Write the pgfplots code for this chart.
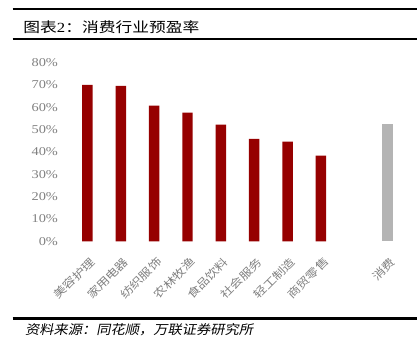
\documentclass[border=0pt]{standalone}
\usepackage{fontspec}
\usepackage{pgfplots}
\pgfplotsset{compat=1.18}
\setmainfont{Liberation Serif}
\newfontfamily\cjk{Noto Sans CJK SC}[FakeStretch=1.2]
\newfontfamily\cjkit{Noto Sans CJK SC}[FakeStretch=1.1,FakeSlant=0.2]
\newfontfamily\numfont{Liberation Serif}[FakeStretch=1.2]
\definecolor{barred}{RGB}{150,0,0}
\definecolor{bargray}{RGB}{180,180,180}
\definecolor{labgray}{RGB}{128,128,128}
\begin{document}
\begin{tikzpicture}[x=1bp,y=1bp]
\path (0,0) rectangle (418,352);
\draw[line width=2bp] (12.7,342.5) -- (418,342.5);
\draw[line width=2bp] (12.7,312.7) -- (418,312.7);
\node[anchor=base west, inner sep=0pt] at (23.3,319) {\cjk\fontsize{14bp}{14bp}\selectfont 图表{\numfont 2}：消费行业预盈率};
\draw[line width=2.5bp] (12.7,32.4) -- (418,32.4);
\node[anchor=base west, inner sep=0pt] at (25,16) {\cjkit\fontsize{13bp}{13bp}\selectfont 资料来源：同花顺，万联证券研究所};
\begin{axis}[
  at={(57.6bp,110bp)}, anchor=south west,
  scale only axis, width=357.9bp, height=179.2bp,
  xmin=-0.9, xmax=9.8, ymin=0, ymax=80,
  axis line style={draw=none},
  major tick length=0pt,
  ytick={0,10,20,30,40,50,60,70,80},
  yticklabels={0\%,10\%,20\%,30\%,40\%,50\%,60\%,70\%,80\%},
  yticklabel style={font=\numfont\fontsize{12bp}{12bp}\selectfont, text=labgray, anchor=east, inner sep=0pt, xshift=0.7bp},
  xtick={0,1,2,3,4,5,6,7,9},
  xticklabels={美容护理,家用电器,纺织服饰,农林牧渔,食品饮料,社会服务,轻工制造,商贸零售,消费},
  xticklabel style={font=\cjk\fontsize{11bp}{11bp}\selectfont, text=labgray, rotate=45, anchor=east, inner sep=0pt, yshift=-17bp, xshift=-9bp},
]
\addplot[ybar, bar width=10.5bp, bar shift=0pt, fill=barred, draw=none] coordinates {
  (0,70.0) (1,69.6) (2,60.7) (3,57.6) (4,52.2) (5,45.8) (6,44.6) (7,38.4)
};
\addplot[ybar, bar width=10.5bp, bar shift=0pt, fill=bargray, draw=none] coordinates {
  (9,52.7)
};
\end{axis}
\end{tikzpicture}
\end{document}
